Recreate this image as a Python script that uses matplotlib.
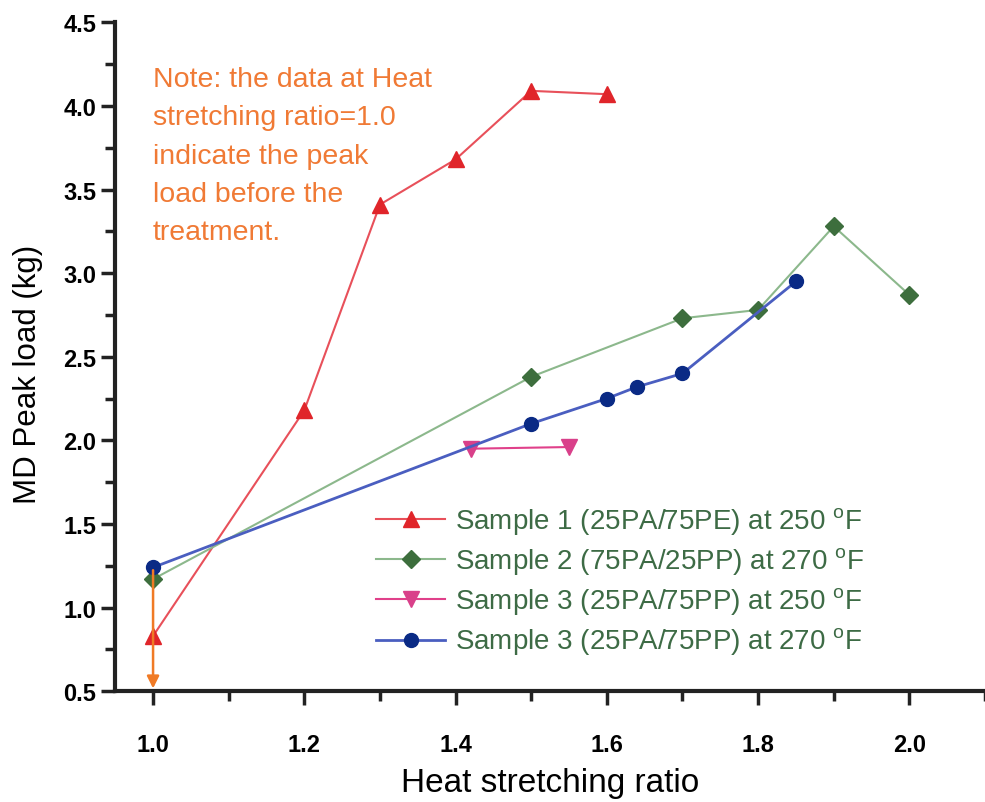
import matplotlib.pyplot as plt
from matplotlib.ticker import MultipleLocator

# data
x1 = [1.0, 1.2, 1.3, 1.4, 1.5, 1.6]
y1 = [0.83, 2.18, 3.41, 3.68, 4.09, 4.07]

x2 = [1.0, 1.5, 1.7, 1.8, 1.9, 2.0]
y2 = [1.17, 2.38, 2.73, 2.78, 3.28, 2.87]

x3 = [1.42, 1.55]
y3 = [1.95, 1.96]

x4 = [1.0, 1.5, 1.6, 1.64, 1.7, 1.85]
y4 = [1.24, 2.10, 2.25, 2.32, 2.40, 2.95]

labels = ['Sample 1 (25PA/75PE) at 250 $^{\\mathregular{o}}$F',
          'Sample 2 (75PA/25PP) at 270 $^{\\mathregular{o}}$F',
          'Sample 3 (25PA/75PP) at 250 $^{\\mathregular{o}}$F',
          'Sample 3 (25PA/75PP) at 270 $^{\\mathregular{o}}$F']

note = ('Note: the data at Heat\nstretching ratio=1.0\nindicate the peak\n'
        'load before the\ntreatment.')

plt.rcParams['font.family'] = ['Liberation Sans', 'DejaVu Sans']
narrow = ['Liberation Sans Narrow', 'Liberation Sans', 'DejaVu Sans']

fig = plt.figure(figsize=(9.85, 8.03), dpi=100)
ax = fig.add_axes([0.117, 0.138, 0.883, 0.833])

ax.plot(x1, y1, color='#e8505a', lw=1.5, marker='^', ms=11,
        mfc='#e0252a', mec='#e0252a', label=labels[0])
ax.plot(x2, y2, color='#8cb88c', lw=1.5, marker='D', ms=9,
        mfc='#3d6e3d', mec='#3d6e3d', label=labels[1])
ax.plot(x3, y3, color='#e0408a', lw=1.5, marker='v', ms=11,
        mfc='#d9408a', mec='#d9408a', label=labels[2])
ax.plot(x4, y4, color='#4a5ec0', lw=2, marker='o', ms=10,
        mfc='#0a2a85', mec='#0a2a85', label=labels[3])

ax.annotate('', xy=(1.0, 0.5), xytext=(1.0, y4[0]),
            arrowprops=dict(arrowstyle='-|>', color='#f07a25', lw=1.8,
                            mutation_scale=18))

ax.text(1.0, 4.24, note, color='#f07a35', fontsize=20.5, va='top',
        linespacing=1.62)

ax.set_xlim(0.95, 2.1)
ax.set_ylim(0.5, 4.5)
ax.xaxis.set_major_locator(MultipleLocator(0.2))
ax.xaxis.set_minor_locator(MultipleLocator(0.1))
ax.yaxis.set_major_locator(MultipleLocator(0.5))
ax.yaxis.set_minor_locator(MultipleLocator(0.25))

for s in ['top', 'right']:
    ax.spines[s].set_visible(False)
for s in ['left', 'bottom']:
    ax.spines[s].set_linewidth(3)
    ax.spines[s].set_color('#222222')

ax.tick_params(which='major', length=10, width=2.5, color='#222222')
ax.tick_params(which='minor', length=7, width=2.5, color='#222222')
ax.tick_params(axis='x', which='major', pad=20)
for lab in ax.get_xticklabels() + ax.get_yticklabels():
    lab.set_family(narrow)
    lab.set_fontweight('bold')
    lab.set_fontsize(17)

ax.set_xlabel('Heat stretching ratio', family=narrow, fontsize=24, labelpad=8)
ax.set_ylabel('MD Peak load (kg)', fontsize=22.5, labelpad=15)
ax.yaxis.label.set_y(0.475)

leg = ax.legend(loc='upper left', bbox_to_anchor=(0.271, 0.316), frameon=False,
                fontsize=20, handlelength=2.5, labelspacing=0.31,
                handletextpad=0.36)
for t in leg.get_texts():
    t.set_color('#3d6b45')

fig.savefig('out.png', dpi=100, facecolor='white')
